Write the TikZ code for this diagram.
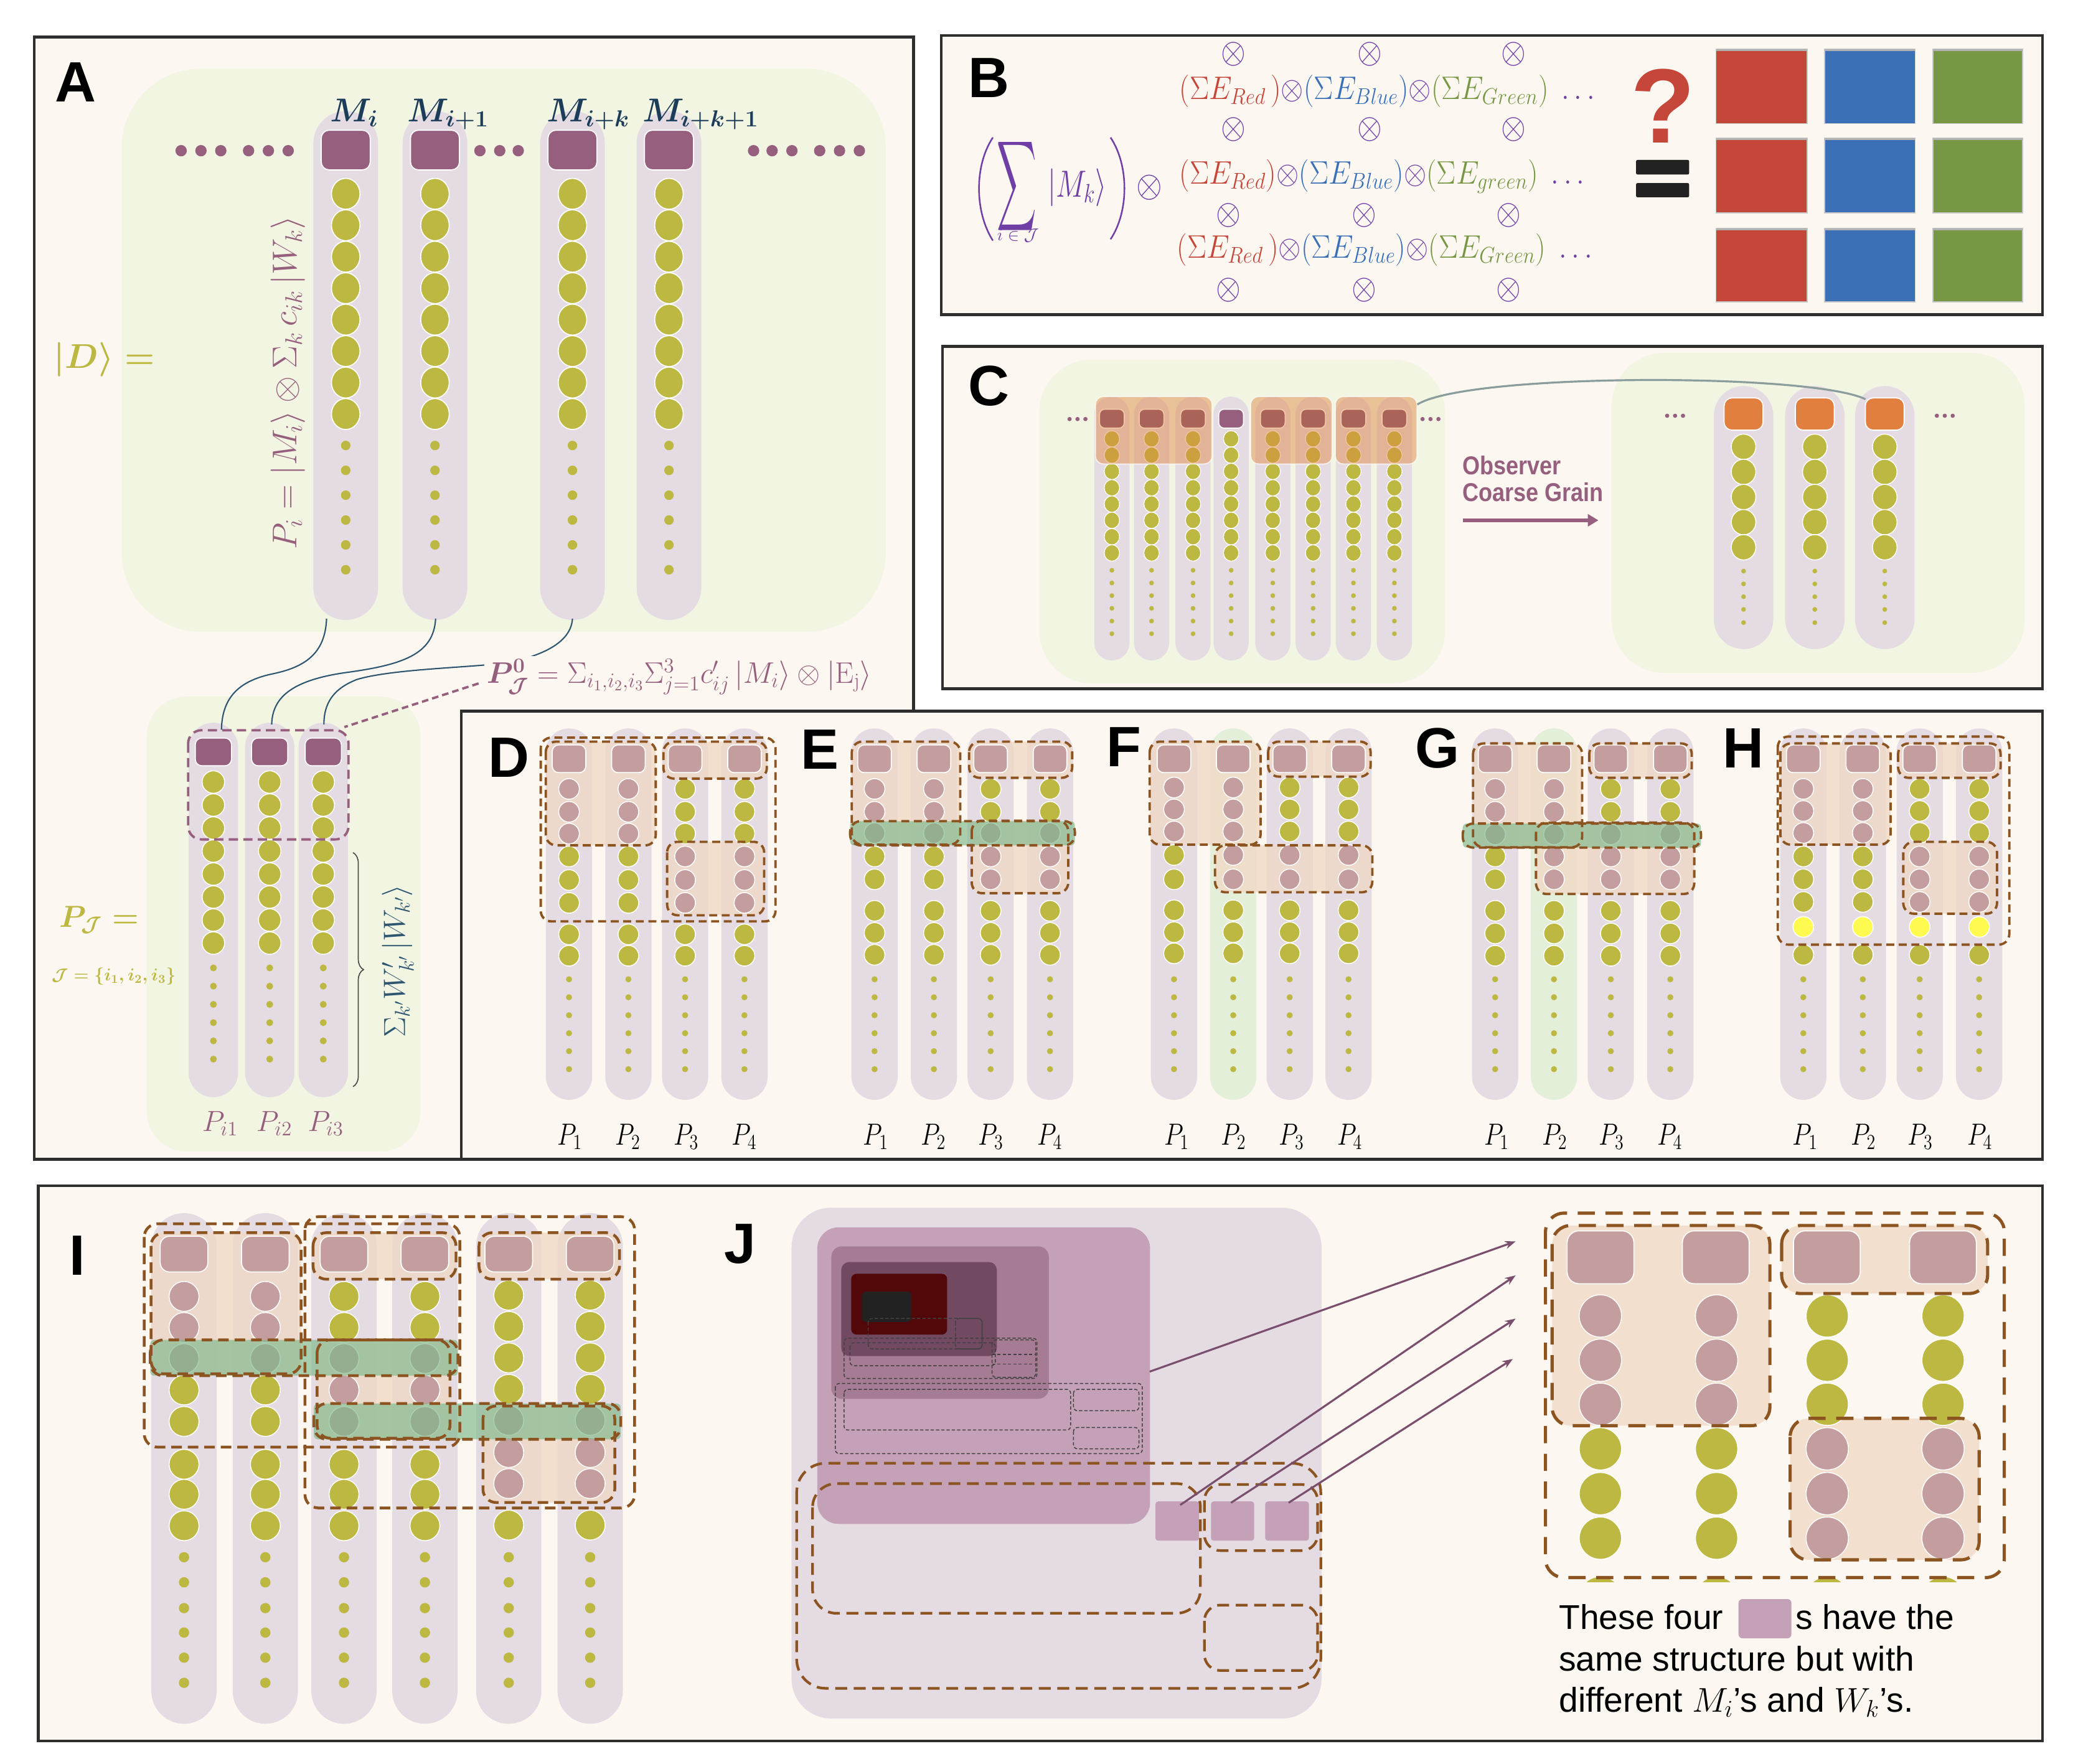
\RequirePackage{fix-cm}
\documentclass[tikz,border=0pt]{standalone}
\usepackage{amsmath,amssymb}
\usepackage{graphicx}
\usepackage{fontspec}
\newfontfamily\lab{Liberation Sans}
\usetikzlibrary{arrows.meta,decorations.pathreplacing}
\definecolor{cream}{HTML}{FCF8F1}
\definecolor{frmc}{HTML}{2E2E2E}
\definecolor{gbg}{HTML}{F2F5E2}
\definecolor{lav}{HTML}{E5DCE3}
\definecolor{mauve}{HTML}{975F7E}
\definecolor{oli}{HTML}{BDB842}
\definecolor{rose}{HTML}{C49D9E}
\definecolor{peach}{HTML}{F0D9C6}
\definecolor{band}{HTML}{7DB88A}
\definecolor{brn}{HTML}{8B5420}
\definecolor{navy}{HTML}{1C3D5A}
\definecolor{tblue}{HTML}{2E5670}
\definecolor{purp}{HTML}{6F3FA5}
\definecolor{rred}{HTML}{C5473A}
\definecolor{bblu}{HTML}{3B70B7}
\definecolor{ggrn}{HTML}{789745}
\definecolor{orng}{HTML}{E07F3E}
\definecolor{ovl}{HTML}{E0823C}
\definecolor{cdark}{HTML}{7F4A70}
\definecolor{cgray}{HTML}{8A9C9C}
\definecolor{jmed}{HTML}{C4A1B7}
\definecolor{jdk1}{HTML}{A67B94}
\definecolor{jdk2}{HTML}{714A62}
\definecolor{jred}{HTML}{520808}
\definecolor{jblk}{HTML}{222222}
\definecolor{jarr}{HTML}{7A4F6E}
\definecolor{ltgrn}{HTML}{E3EFD9}
\definecolor{yel}{HTML}{FFFA50}
\newcommand\mypill[5]{\fill[#5, rounded corners=#4pt] ({#1-#4},#2) rectangle ({#1+#4},#3);}
\newcommand\mysq[6]{\filldraw[fill=#6, draw=white, line width=0.8pt, rounded corners=#5pt] ({#1-#3/2},{#2-#4/2}) rectangle ({#1+#3/2},{#2+#4/2});}
\newcommand\mycirc[4]{\filldraw[fill=#4, draw=white, line width=0.7pt] (#1,#2) circle (#3pt);}
\newcommand\bigot{\scalebox{1.15}[1.3]{$\otimes$}}
\tikzset{
 frm/.style={draw=frmc, line width=2pt, fill=cream},
 plab/.style={font=\lab\bfseries\fontsize{43}{43}\selectfont, inner sep=0pt},
 plbl/.style={font=\fontsize{21}{21}\selectfont, inner sep=0pt},
 mlab/.style={text=navy, font=\fontsize{25}{25}\selectfont, inner sep=0pt, anchor=base},
 pch/.style={fill=peach, fill opacity=0.8, rounded corners=8pt},
 bnd/.style={fill=band, fill opacity=0.65, rounded corners=3pt},
 dsh/.style={draw=brn, line width=1.8pt, dash pattern=on 6pt off 3.5pt, rounded corners=8pt},
 dshI/.style={draw=brn, line width=2.1pt, dash pattern=on 8pt off 4.5pt, rounded corners=10pt},
 dshJ/.style={draw=brn, line width=2pt, dash pattern=on 9pt off 5pt},
 dshK/.style={draw=brn, line width=2.4pt, dash pattern=on 13pt off 8pt, rounded corners=14pt},
 bdsh/.style={draw=black!75, line width=0.7pt, dash pattern=on 2.5pt off 1.5pt, rounded corners=3pt},
 conn/.style={draw=tblue, line width=1pt},
 brow/.style={anchor=west, inner sep=0pt, font=\fontsize{22}{22}\selectfont},
}
\begin{document}
\begin{tikzpicture}[x=1pt,y=-1pt]
\useasboundingbox (0,0) rectangle (1568,1334);
\fill[white] (0,0) rectangle (1568,1334);
%% frames
\draw[frm] (26,28) rectangle (691,877);
\draw[frm] (712,27) rectangle (1545,238);
\draw[frm] (713,262) rectangle (1545,521);

%%%%%%%% PANEL A
\node[plab] (labA) at (57,62) {A};
\fill[gbg, rounded corners=60pt] (92,52) rectangle (670,478);
\foreach \cx in {261.5,329,433,506}{
  \mypill{\cx}{84}{469}{24.5}{lav}
  \mysq{\cx}{113.5}{37}{30}{6}{mauve}
  \foreach \yy in {146.6,170.4,194.2,218,241.8,265.6,289.4,313.2}{\filldraw[fill=oli,draw=white,line width=0.8pt] (\cx,\yy) ellipse (10.8pt and 11.7pt);}
  \foreach \yy in {337,355.8,374.6,393.4,412.2,431}{\fill[oli] (\cx,\yy) circle (3.6pt);}
}
\foreach \xx in {137,152,167,188,203,218,363,378,392,570,584,599,620,635,650}{\fill[mauve] (\xx,114) circle (4.3pt);}
\node[mlab] (mA1) at (268,92) {$\boldsymbol{M_i}$};
\node[mlab] (mA2) at (339,92) {$\boldsymbol{M_{i+1}}$};
\node[mlab] (mA3) at (445,92) {$\boldsymbol{M_{i+k}}$};
\node[mlab] (mA4) at (530,92) {$\boldsymbol{M_{i+k+1}}$};
\node[text=oli, font=\fontsize{26}{26}\selectfont] (dA) at (79,272) {$\boldsymbol{|D\rangle =}$};
\node[rotate=90, text=mauve, font=\fontsize{26}{26}\selectfont] (piA) at (218,289.5) {$P_i = |M_i\rangle \otimes \Sigma_k\, c_{ik}\, |W_k\rangle$};
\coordinate (a1b) at (247,468);
\coordinate (a2b) at (329.5,468);
\coordinate (a3b) at (433,468);
\coordinate (l1t) at (167.5,552);
\coordinate (l2t) at (205.5,548);
\coordinate (l3t) at (245,548);
% lower A
\fill[gbg, rounded corners=30pt] (111,527) rectangle (318,871);
\foreach \cx in {161.4,204,244.5}{
 \mypill{\cx}{546.7}{830}{18.7}{lav}
 \mysq{\cx}{568.8}{27.4}{21}{5}{mauve}
 \foreach \yy in {591.6,609,626.4,643.8,661.2,678.6,696,713.4}{\mycirc{\cx}{\yy}{8.5}{oli}}
 \foreach \yy in {732.2,746,759.8,773.6,787.4,801.2}{\fill[oli] (\cx,\yy) circle (2.6pt);}
}
\draw[mauve, line width=1.8pt, dash pattern=on 7pt off 4pt, rounded corners=10pt] (142.3,552.4) rectangle (263.6,635);
\draw[conn] (a1b) .. controls (246,495) and (230,505) .. (205,510) .. controls (178,516) and (168,530) .. (l1t);
\draw[conn] (a2b) .. controls (328,495) and (305,503) .. (260,509) .. controls (220,515) and (206,528) .. (l2t);
\draw[conn] (a3b) .. controls (432,484) and (415,494) .. (390,500) .. controls (370,505) and (300,505) .. (270,514) .. controls (252,521) and (245,532) .. (l3t);
\node[fill=cream, inner sep=2pt, text=mauve, font=\fontsize{22.5}{22.5}\selectfont, anchor=west] (pj0) at (366,512) {$\boldsymbol{P^{0}_{\mathcal{J}}} = \Sigma_{i_1,i_2,i_3}\Sigma^{3}_{j=1} c'_{ij}\,|M_i\rangle \otimes |\mathrm{E_j}\rangle$};
\coordinate (pjs) at (362,517);
\coordinate (pjb) at (260.5,550);
\draw[mauve, line width=1.8pt, dash pattern=on 5pt off 3pt] (pjs) -- (pjb);
\draw[decorate, decoration={brace, amplitude=8pt}, draw=black!70, line width=0.8pt] (267,645) -- (267,822);
\node[rotate=90, text=tblue, font=\fontsize{23}{23}\selectfont] (wsum) at (301,727) {$\Sigma_{k'} W'_{k'}\, |W_{k'}\rangle$};
\node[text=oli, font=\fontsize{23}{23}\selectfont] (pjA) at (75,696) {$\boldsymbol{P_{\mathcal{J}} =}$};
\node[text=oli, font=\fontsize{13}{13}\selectfont] (jset) at (86,738.5) {$\boldsymbol{\mathcal{J} = \{i_1, i_2, i_3\}}$};
\node[text=mauve, font=\fontsize{22}{22}\selectfont] (pi1) at (166.5,850) {$P_{i1}$};
\node[text=mauve, font=\fontsize{22}{22}\selectfont] (pi2) at (207.5,850) {$P_{i2}$};
\node[text=mauve, font=\fontsize{22}{22}\selectfont] (pi3) at (246.4,850) {$P_{i3}$};

%%%%%%%% PANEL B
\node[plab] (labB) at (748,59) {B};
\foreach \xx/\yy [count=\n] in {933/41,1036/41,1145/41,933/98,1036/98,1145/98,929/163,1032/163,1141/163,929/219.5,1032/219.5,1141/219.5}{\node[text=purp, font=\fontsize{21}{21}\selectfont, inner sep=0pt] (otB\n) at (\xx,\yy) {\bigot};}
\node[brow] (bR1) at (892,69) {\scalebox{1}[1.12]{$\color{rred}(\Sigma E_{Red}\,)\color{purp}\mathord{\otimes}\color{bblu}(\Sigma E_{Blue})\color{purp}\mathord{\otimes}\color{ggrn}(\Sigma E_{Green})\;\color{purp}\ldots$}};
\node[brow] (bR2) at (892,133.5) {\scalebox{1}[1.12]{$\color{rred}(\Sigma E_{Red})\color{purp}\mathord{\otimes}\color{bblu}(\Sigma E_{Blue})\color{purp}\mathord{\otimes}\color{ggrn}(\Sigma E_{green})\;\color{purp}\ldots$}};
\node[brow] (bR3) at (890,189) {\scalebox{1}[1.12]{$\color{rred}(\Sigma E_{Red}\,)\color{purp}\mathord{\otimes}\color{bblu}(\Sigma E_{Blue})\color{purp}\mathord{\otimes}\color{ggrn}(\Sigma E_{Green})\;\color{purp}\ldots$}};
\coordinate (lpT) at (751,104); \coordinate (lpB) at (751,182);
\coordinate (rpT) at (840,104); \coordinate (rpB) at (840,181);
\draw[purp, line width=1.2pt] (lpT) .. controls (737,125) and (737,160) .. (lpB);
\draw[purp, line width=1.2pt] (rpT) .. controls (854,125) and (854,160) .. (rpB);
\node[text=purp, inner sep=0pt] (bsig) at (769,141) {\resizebox{30pt}{50pt}{$\displaystyle\sum$}};
\node[text=purp, inner sep=0pt, font=\fontsize{13}{13}\selectfont] (bsub) at (770,178) {$i\in\mathcal{J}$};
\node[text=purp, inner sep=0pt, font=\fontsize{22}{22}\selectfont] (bmk) at (815,142) {\scalebox{1}[1.3]{$|M_k\rangle$}};
\node[text=purp, inner sep=0pt, font=\fontsize{22}{22}\selectfont] (botm) at (869.5,142) {\bigot};
\node[text=rred, inner sep=0pt, font=\lab\bfseries\fontsize{80}{80}\selectfont] (qm) at (1258,80) {?};
\fill[jblk, rounded corners=1pt] (1237.5,121) rectangle (1277.6,132);
\fill[jblk, rounded corners=1pt] (1237.5,138.5) rectangle (1277.6,149.2);
\foreach \xa/\xb/\cc in {1298/1367/rred,1380/1448.6/bblu,1462/1530/ggrn}{
  \foreach \ya/\yb in {37/93.4,104.4/161,172.7/228.4}{
    \filldraw[fill=\cc, draw=gray!45, line width=0.8pt] (\xa,\ya) rectangle (\xb,\yb);
    \draw[gray!60, line width=1.6pt] (\xa,\ya+0.8) -- (\xb,\ya+0.8);}}

%%%%%%%% PANEL C
\node[plab] (labC) at (748,292) {C};
\fill[gbg, rounded corners=40pt] (786,272) rectangle (1093,517);
\fill[gbg, rounded corners=40pt] (1219,267) rectangle (1531.5,509);
\foreach \cx in {841,871,902.4,931.2,962.7,993.2,1023.7,1054.7}{
  \mypill{\cx}{300}{499.6}{13.3}{lav}
  \foreach \yy in {332,344.3,356.6,369,381.3,393.6,406,418.3}{\filldraw[fill=oli,draw=white,line width=0.6pt] (\cx,\yy) ellipse (5.8pt and 6.2pt);}
  \foreach \yy in {431.4,441,450.6,460.2,469.8,479.4}{\fill[oli] (\cx,\yy) circle (1.8pt);}
}
\foreach \cx in {841,871,902.4,962.7,993.2,1023.7,1054.7}{\mysq{\cx}{316.7}{18.7}{14.3}{4}{cdark}}
\mysq{931.2}{316.7}{18.7}{14.3}{4}{mauve}
\foreach \xa/\xb in {828.6/916.8,946/1007.6,1010/1071.8}{\filldraw[fill=ovl, fill opacity=0.45, draw=white, draw opacity=0.7, line width=0.8pt, rounded corners=6pt] (\xa,300) rectangle (\xb,351);}
\foreach \xx in {809,815,821,1076,1082,1088}{\fill[mauve] (\xx,317) circle (1.6pt);}
\foreach \xx in {1261,1267,1273,1465,1471,1477}{\fill[mauve] (\xx,314.5) circle (1.6pt);}
\foreach \cx in {1318.8,1372.7,1425.6}{
  \mypill{\cx}{292}{491}{22.5}{lav}
  \mysq{\cx}{313.2}{29.4}{24.4}{6}{orng}
  \foreach \yy in {338,357,376,395,414}{\filldraw[fill=oli,draw=white,line width=0.7pt] (\cx,\yy) ellipse (9.3pt and 9.6pt);}
  \foreach \yy in {432,441.7,451.4,461,471}{\fill[oli] (\cx,\yy) circle (1.8pt);}
}
\coordinate (cg3) at (1072,306);
\coordinate (cr3) at (1411,302);
\draw[cgray, line width=1.5pt] (cg3) .. controls (1110,282) and (1370,282) .. (cr3);
\node[anchor=west, text=mauve, font=\lab\bfseries\fontsize{17}{17}\selectfont, inner sep=0pt] (obs) at (1106,352) {\scalebox{1}[1.15]{Observer}};
\node[anchor=west, text=mauve, font=\lab\bfseries\fontsize{17}{17}\selectfont, inner sep=0pt] (cgr) at (1106,372.5) {\scalebox{1}[1.15]{Coarse Grain}};
\coordinate (ars) at (1106.5,393.6);
\coordinate (are) at (1209,393.6);
\draw[mauve, line width=2.6pt, -{Triangle[length=8pt,width=9pt]}] (ars) -- (are);

%%%%%%%% PANEL D-H
\draw[frm] (349,538) rectangle (1545,877);
\foreach \t/\xx/\yy in {D/385/573,E/620/567,F/850/565,G/1087/566,H/1318.5/566}{\node[plab] (lab\t) at (\xx,\yy) {\t};}
\foreach \cx in {430.4,475.3,518.2,563.1,661.5,706.4,749.3,794.2,888,975.5,1020,1130.9,1218.4,1263.4,1364,1409,1452,1497}{\mypill{\cx}{551}{832}{17.5}{lav}}
\foreach \cx in {932.8,1175.4}{\mypill{\cx}{551}{832}{17.5}{ltgrn}}
\foreach \xa/\ya/\xb/\yb in {412.8/561/496/639.5, 501.8/561/580/589, 504.6/636.8/578/692.4,
  644.3/561/726.3/639, 733/561/811/588.4, 735/620.8/808/675.7,
  869.6/561/953.5/639, 959.2/561/1036.7/587.5, 919/639.5/1038/675,
  1114.2/562.4/1196.7/641, 1202.1/562.4/1279.6/588.4, 1161.8/622.3/1281.5/676.3,
  1346.6/562.4/1430/639, 1435.7/562.4/1513.2/588.4, 1439.6/636.8/1510.5/691.2}{\fill[pch] (\xa,\ya) rectangle (\xb,\yb);}
\foreach \cx in {430.4,475.3,518.2,563.1,661.5,706.4,749.3,794.2,888,932.8,975.5,1020,1130.9,1175.4,1218.4,1263.4,1364,1409,1452,1497}{
  \mysq{\cx}{574}{25.4}{21}{5}{rose}
  \foreach \yy in {740.8,754.4,768,781.6,795.2,808.8}{\fill[oli] (\cx,\yy) circle (2.3pt);}}
% D
\foreach \cx in {430.4,475.3}{\foreach \yy/\cc in {596.8/rose,614.1/rose,630.6/rose,647.9/oli,665.7/oli,683/oli,706.8/oli,723/oli}{\mycirc{\cx}{\yy}{7.8}{\cc}}}
\foreach \cx in {518.2,563.1}{\foreach \yy/\cc in {596.8/oli,614.1/oli,630.6/oli,647.9/rose,665.7/rose,683/rose,706.8/oli,723/oli}{\mycirc{\cx}{\yy}{7.8}{\cc}}}
% E
\foreach \cx in {661.5,706.4}{\foreach \yy/\cc in {596.8/rose,614.1/rose,630.2/rose,647.9/oli,665.2/oli,689/oli,705.7/oli,722.3/oli}{\mycirc{\cx}{\yy}{7.8}{\cc}}}
\foreach \cx in {749.3,794.2}{\foreach \yy/\cc in {596.8/oli,614.1/oli,630.2/rose,647.9/rose,665.2/rose,689/oli,705.7/oli,722.3/oli}{\mycirc{\cx}{\yy}{7.8}{\cc}}}
% F
\foreach \cx in {888}{\foreach \yy/\cc in {595.7/rose,612.3/rose,629/rose,646.8/oli,665.2/oli,688.6/oli,705.2/oli,721.2/oli}{\mycirc{\cx}{\yy}{7.8}{\cc}}}
\foreach \cx in {932.8}{\foreach \yy/\cc in {595.7/rose,612.3/rose,629/rose,646.8/rose,665.2/rose,688.6/oli,705.2/oli,721.2/oli}{\mycirc{\cx}{\yy}{7.8}{\cc}}}
\foreach \cx in {975.5,1020}{\foreach \yy/\cc in {595.7/oli,612.3/oli,629/oli,646.8/rose,665.2/rose,688.6/oli,705.2/oli,721.2/oli}{\mycirc{\cx}{\yy}{7.8}{\cc}}}
% G
\foreach \cx in {1130.9}{\foreach \yy/\cc in {596.8/rose,614.1/rose,631.2/rose,647.9/oli,665.2/oli,689/oli,706.1/oli,723/oli}{\mycirc{\cx}{\yy}{7.8}{\cc}}}
\foreach \cx in {1175.4}{\foreach \yy/\cc in {596.8/rose,614.1/rose,631.2/rose,647.9/rose,665.2/rose,689/oli,706.1/oli,723/oli}{\mycirc{\cx}{\yy}{7.8}{\cc}}}
\foreach \cx in {1218.4,1263.4}{\foreach \yy/\cc in {596.8/oli,614.1/oli,631.2/rose,647.9/rose,665.2/rose,689/oli,706.1/oli,723/oli}{\mycirc{\cx}{\yy}{7.8}{\cc}}}
% H
\foreach \cx in {1364,1409}{\foreach \yy/\cc in {596.8/rose,613.5/rose,630.1/rose,647.9/oli,665.2/oli,682.3/oli,701.2/yel,722.3/oli}{\mycirc{\cx}{\yy}{7.8}{\cc}}}
\foreach \cx in {1452,1497}{\foreach \yy/\cc in {596.8/oli,613.5/oli,630.1/oli,647.9/rose,665.2/rose,682.3/rose,701.2/yel,722.3/oli}{\mycirc{\cx}{\yy}{7.8}{\cc}}}
\foreach \xa/\ya/\xb/\yb in {643/621.2/813/639.5, 1106.4/623/1286.6/641.2}{\fill[bnd] (\xa,\ya) rectangle (\xb,\yb);}
\foreach \xa/\ya/\xb/\yb in {412.8/561/496/639.5, 501.8/561/580/589, 504.6/636.8/578/692.4, 409/558/586.6/697,
  644.3/561/726.3/639, 733/561/811/588.4, 735/620.8/808/675.7, 643/621.2/813/639.5,
  869.6/561/953.5/639, 959.2/561/1036.7/587.5, 919/639.5/1038/675,
  1114.2/562.4/1196.7/641, 1202.1/562.4/1279.6/588.4, 1161.8/622.3/1281.5/676.3, 1106.4/623/1286.6/641.2,
  1346.6/562.4/1430/639, 1435.7/562.4/1513.2/588.4, 1439.6/636.8/1510.5/691.2, 1344.7/557.2/1519.8/714.6}{\draw[dsh] (\xa,\ya) rectangle (\xb,\yb);}
\foreach \xx [count=\n] in {431,475,519,563, 662.5,706,749.5,794, 890,933,977,1021, 1132,1176,1219,1263, 1365.5,1409.5,1452.5,1497.5}{\pgfmathtruncatemacro{\k}{mod(\n-1,4)+1}\node[plbl] (pl\n) at (\xx,860) {\scalebox{0.9}[1.1]{$P_{\k}$}};}

%%%%%%%% PANEL I / J
\draw[frm] (29,897) rectangle (1545,1317);
\node[plab] (labI) at (58.5,950) {I};
\foreach \cx in {139.2,200.7,260.2,321.4,384.8,446.4}{\mypill{\cx}{917.7}{1304}{24.7}{lav}}
\foreach \xa/\ya/\xb/\yb in {114.2/932.5/227.7/1039.3, 236.8/932.5/344.9/967.7, 362.3/932.5/468.6/967.7, 239.8/1013.6/340.4/1088, 365.3/1063.6/465/1136.6}{\fill[pch] (\xa,\ya) rectangle (\xb,\yb);}
\foreach \cx in {139.2,200.7,260.2,321.4,384.8,446.4}{
  \mysq{\cx}{948.7}{36}{27}{7}{rose}
  \foreach \yy in {1178,1197,1216.5,1235,1254,1273}{\fill[oli] (\cx,\yy) circle (3.9pt);}}
\foreach \cx in {139.2,200.7}{\foreach \yy/\cc in {980.7/rose,1004.2/rose,1027.7/rose,1051.5/oli,1075.3/oli,1107.7/oli,1130.4/oli,1154.2/oli}{\mycirc{\cx}{\yy}{11.3}{\cc}}}
\foreach \cx in {260.2,321.4}{\foreach \yy/\cc in {980.7/oli,1004.2/oli,1027.7/rose,1051.5/rose,1075.3/rose,1107.7/oli,1130.4/oli,1154.2/oli}{\mycirc{\cx}{\yy}{11.3}{\cc}}}
\foreach \cx in {384.8,446.4}{\foreach \yy/\cc in {979.8/oli,1003.4/oli,1027.2/oli,1051/oli,1074.5/rose,1098.8/rose,1122.3/rose,1153.7/oli}{\mycirc{\cx}{\yy}{11.3}{\cc}}}
\foreach \xa/\ya/\xb/\yb in {113.6/1013.6/346.4/1040.7, 237.4/1061.7/469.5/1088.8}{\fill[bnd] (\xa,\ya) rectangle (\xb,\yb);}
\foreach \xa/\ya/\xb/\yb in {114.2/932.5/227.7/1039.3, 236.8/932.5/344.9/967.7, 362.3/932.5/468.6/967.7, 239.8/1013.6/340.4/1088, 365.3/1063.6/465/1136.6, 113.6/1013.6/346.4/1040.7, 237.4/1061.7/469.5/1088.8, 109.1/925.8/347.8/1094.7, 230.7/920.4/480/1140.7}{\draw[dshI] (\xa,\ya) rectangle (\xb,\yb);}

% J
\node[plab] (labJ) at (560,941) {J};
\fill[lav, rounded corners=30pt] (598.7,913.6) rectangle (999.6,1300);
\fill[jmed, rounded corners=16pt] (618.2,928.5) rectangle (869.9,1152.8);
\fill[jdk1, rounded corners=8pt] (628.8,942.8) rectangle (793.3,1058.2);
\fill[jdk2, rounded corners=6pt] (636.3,954.7) rectangle (754,1025.8);
\fill[jred, rounded corners=4pt] (643.8,963.6) rectangle (716.4,1009.6);
\fill[jblk, rounded corners=3pt] (651.9,977.1) rectangle (689.4,1000);
\foreach \xa/\ya/\xb/\yb in {631.8/1046.6/864/1099.6, 638.4/1051/809.8/1081.8, 812/1051/861.5/1067.2, 812/1079.9/861.5/1096, 638.4/1012.3/784.3/1042.8, 642.9/1015.8/752.8/1033.1, 656.7/997.4/742.9/1020.4, 722.7/997.4/742.9/1020.4, 750.4/1013.6/783.4/1042}{\draw[bdsh] (\xa,\ya) rectangle (\xb,\yb);}
\draw[bdsh] (750.4,1024.5) -- (783.4,1024.5);
\draw[bdsh] (750.4,1032) -- (783.4,1032);
\foreach \xa/\xb [count=\n] in {874/907,916/948.6,957/990}{\fill[jmed, rounded corners=2pt] (\xa,1135.8) rectangle (\xb,1165.5);}
\draw[dshJ, rounded corners=22pt] (602.6,1106.9) rectangle (999,1277.2);
\draw[dshJ, rounded corners=18pt] (614.6,1122.3) rectangle (908,1220.4);
\draw[dshJ, rounded corners=12pt] (911,1123) rectangle (996.6,1173);
\draw[dshJ, rounded corners=12pt] (911,1214.2) rectangle (996.6,1263.7);
\coordinate (js0) at (869.6,1037.6); \coordinate (jt0) at (1146.4,939.1);
\coordinate (js1) at (892.7,1138.5); \coordinate (jt1) at (1146.4,964.8);
\coordinate (js2) at (931.1,1136.8); \coordinate (jt2) at (1146.4,997.5);
\coordinate (js3) at (974.7,1136.8); \coordinate (jt3) at (1144.3,1028);
\foreach \n in {0,1,2,3}{\draw[jarr, line width=1.5pt, -{Stealth[length=8pt,width=6pt]}] (js\n) -- (jt\n);}
% J right
\foreach \xa/\ya/\xb/\yb in {1174/927.1/1338.7/1078.5, 1347.6/927.1/1503.4/978.5, 1354/1073/1497/1180}{\fill[pch, rounded corners=14pt] (\xa,\ya) rectangle (\xb,\yb);}
\foreach \cx in {1210.6,1297.8,1381.8,1469.6}{\mysq{\cx}{951.1}{50.5}{40}{9}{rose}}
\foreach \cx in {1210.5,1298.4}{\foreach \yy/\cc in {995.5/rose,1029/rose,1062.3/rose,1096/oli,1129.9/oli,1163.6/oli}{\mycirc{\cx}{\yy}{16}{\cc}}}
\foreach \cx in {1382.1,1469.7}{\foreach \yy/\cc in {995.5/oli,1029/oli,1062.3/oli,1096/rose,1129.9/rose,1163.6/rose}{\mycirc{\cx}{\yy}{16}{\cc}}}
\begin{scope}
\clip (1160,1180) rectangle (1530,1196.5);
\foreach \cx in {1210.5,1298.4,1382.1,1469.7}{\fill[oli] (\cx,1209) circle (16pt);}
\end{scope}
\foreach \xa/\ya/\xb/\yb in {1174/927.1/1338.7/1078.5, 1347.6/927.1/1503.4/978.5, 1354/1073/1497/1180, 1169/917.7/1516/1193.4}{\draw[dshK] (\xa,\ya) rectangle (\xb,\yb);}
\node[anchor=base west, inner sep=0pt, font=\lab\fontsize{26}{26}\selectfont] (t1) at (1179,1232.5) {These four};
\node[fill=jmed, rounded corners=3pt, minimum width=40pt, minimum height=29.7pt, inner sep=0pt] (tbox) at (1335,1224.5) {};
\node[anchor=base west, inner sep=0pt, font=\lab\fontsize{26}{26}\selectfont] (t2) at (1358,1232.5) {s have the};
\node[anchor=base west, inner sep=0pt, font=\lab\fontsize{26}{26}\selectfont] (t3) at (1179,1264) {same structure but with};
\node[anchor=base west, inner sep=0pt, font=\lab\fontsize{26}{26}\selectfont] (t4) at (1179,1295) {different $M_i$’s and $W_k$’s.};
\end{tikzpicture}
\end{document}
